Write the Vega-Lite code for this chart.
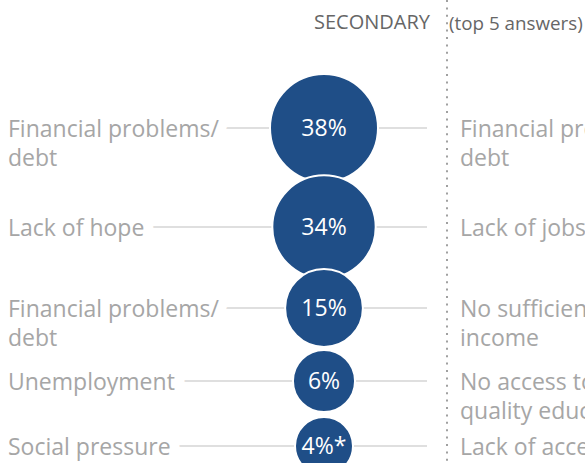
{
  "$schema": "https://vega.github.io/schema/vega-lite/v6.json",
  "width": 585,
  "height": 463,
  "autosize": "none",
  "padding": 0,
  "background": "white",
  "config": {"view": {"stroke": null}, "font": "Open Sans"},
  "data": {
    "values": [
      {"rank": 1, "value": 38, "pct": "38%", "left": ["Financial problems/", "debt"], "right": ["Financial problems/", "debt"]},
      {"rank": 2, "value": 34, "pct": "34%", "left": ["Lack of hope"], "right": ["Lack of jobs"]},
      {"rank": 3, "value": 15, "pct": "15%", "left": ["Financial problems/", "debt"], "right": ["No sufficient", "income"]},
      {"rank": 4, "value": 6, "pct": "6%", "left": ["Unemployment"], "right": ["No access to", "quality education"]},
      {"rank": 5, "value": 4, "pct": "4%*", "left": ["Social pressure"], "right": ["Lack of access"]}
    ]
  },
  "layer": [
    {
      "mark": {"type": "rule", "color": "#bfbfbf", "strokeWidth": 1.2},
      "encoding": {
        "x": {"datum": 0, "type": "quantitative", "scale": {"domain": [0, 1, 2, 3, 4], "range": [8, 324, 427, 447, 460]}, "axis": null},
        "x2": {"datum": 2},
        "y": {"field": "rank", "type": "quantitative", "scale": {"domain": [0, 1, 2, 3, 4, 5], "range": [21, 128, 227, 308, 381, 446]}, "axis": null}
      }
    },
    {
      "data": {"values": [{"part": "divider"}]},
      "mark": {"type": "rule", "color": "#a0a0a0", "strokeWidth": 2, "strokeDash": [2, 5.4]},
      "encoding": {
        "x": {"datum": 3, "type": "quantitative"}
      }
    },
    {
      "mark": {"type": "text", "align": "left", "baseline": "top", "dy": -9, "fontSize": 23, "lineHeight": 29, "stroke": "white", "strokeWidth": 20, "fill": "white"},
      "encoding": {
        "x": {"datum": 0, "type": "quantitative"},
        "y": {"field": "rank", "type": "quantitative"},
        "text": {"field": "left"}
      }
    },
    {
      "mark": {"type": "text", "align": "left", "baseline": "top", "dy": -9, "fontSize": 23, "lineHeight": 29, "color": "#a6a6a6"},
      "encoding": {
        "x": {"datum": 0, "type": "quantitative"},
        "y": {"field": "rank", "type": "quantitative"},
        "text": {"field": "left"}
      }
    },
    {
      "mark": {"type": "circle", "opacity": 1, "color": "#1f4e87", "stroke": "white", "strokeWidth": 2},
      "encoding": {
        "x": {"datum": 1, "type": "quantitative"},
        "y": {"field": "rank", "type": "quantitative"},
        "size": {"field": "value", "type": "quantitative", "scale": {"domain": [4, 38], "range": [3364, 11664]}, "legend": null}
      }
    },
    {
      "mark": {"type": "text", "align": "center", "baseline": "middle", "fontSize": 23, "color": "white", "dy": 1},
      "encoding": {
        "x": {"datum": 1, "type": "quantitative"},
        "y": {"field": "rank", "type": "quantitative"},
        "text": {"field": "pct"}
      }
    },
    {
      "mark": {"type": "text", "align": "left", "baseline": "top", "dy": -9, "fontSize": 23, "lineHeight": 29, "color": "#a6a6a6"},
      "encoding": {
        "x": {"datum": 4, "type": "quantitative"},
        "y": {"field": "rank", "type": "quantitative"},
        "text": {"field": "right"}
      }
    },
    {
      "data": {"values": [{"rank": 0, "t": "SECONDARY"}]},
      "mark": {"type": "text", "align": "right", "baseline": "middle", "dx": -17, "dy": 2, "fontSize": 20, "color": "#666666"},
      "encoding": {
        "x": {"datum": 3, "type": "quantitative"},
        "y": {"field": "rank", "type": "quantitative"},
        "text": {"field": "t"}
      }
    },
    {
      "data": {"values": [{"rank": 0, "t": "(top 5 answers)"}]},
      "mark": {"type": "text", "align": "left", "baseline": "middle", "dx": 2, "dy": 3, "fontSize": 18.8, "color": "#666666"},
      "encoding": {
        "x": {"datum": 3, "type": "quantitative"},
        "y": {"field": "rank", "type": "quantitative"},
        "text": {"field": "t"}
      }
    }
  ]
}
